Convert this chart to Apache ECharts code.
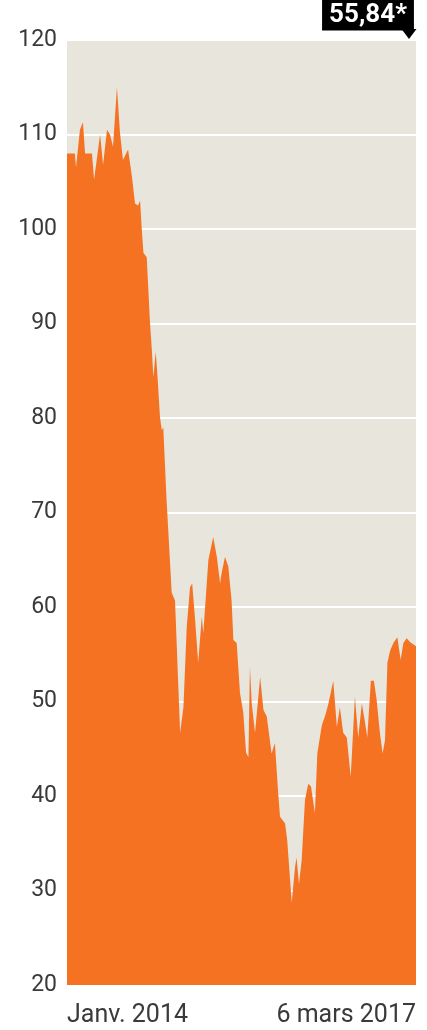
<!DOCTYPE html>
<html>
<head>
<meta charset="utf-8">
<script src="https://cdn.jsdelivr.net/npm/echarts@6/dist/echarts.min.js"></script>
<style>html,body{margin:0;padding:0;background:#fff;}#c{width:427px;height:1030px;}</style>
</head>
<body>
<div id="c"></div>
<script>
// Brent price, dollars per barrel
const dates = ['2014-01-01','2014-01-27','2014-01-31','2014-02-13','2014-02-23','2014-03-02','2014-03-25','2014-04-01','2014-04-21','2014-05-01','2014-05-14','2014-05-24','2014-06-03','2014-06-16','2014-06-26','2014-07-06','2014-07-23','2014-08-05','2014-08-15','2014-08-25','2014-09-01','2014-09-06','2014-09-12','2014-09-23','2014-10-04','2014-10-10','2014-10-15','2014-10-23','2014-10-29','2014-11-06','2014-11-12','2014-11-17','2014-11-28','2014-12-15','2014-12-26','2015-01-12','2015-01-23','2015-02-03','2015-02-14','2015-02-21','2015-03-02','2015-03-13','2015-03-25','2015-03-30','2015-04-16','2015-05-02','2015-05-14','2015-05-25','2015-05-30','2015-06-10','2015-06-21','2015-07-02','2015-07-08','2015-07-19','2015-07-30','2015-08-10','2015-08-19','2015-08-27','2015-09-01','2015-09-07','2015-09-18','2015-10-05','2015-10-16','2015-10-27','2015-11-12','2015-11-23','2015-12-04','2015-12-10','2015-12-27','2016-01-03','2016-01-18','2016-01-29','2016-02-03','2016-02-11','2016-02-20','2016-03-02','2016-03-13','2016-03-22','2016-04-04','2016-04-12','2016-04-27','2016-05-08','2016-05-19','2016-06-04','2016-06-16','2016-06-26','2016-07-07','2016-07-19','2016-08-01','2016-08-15','2016-08-26','2016-09-07','2016-09-18','2016-09-25','2016-10-07','2016-10-17','2016-10-26','2016-11-06','2016-11-15','2016-11-23','2016-12-01','2016-12-10','2016-12-21','2017-01-03','2017-01-14','2017-01-23','2017-02-03','2017-02-14','2017-03-06'];
const prices = [108,108,106.5,110.5,111.3,108,108,105.2,110,106.8,110.5,110,108.7,115,110.2,107.3,108.4,105.5,102.7,102.5,103,100.2,97.5,97,90,87.2,84.3,87,84.3,80.1,78.7,79,71.3,61.5,60.7,46.7,49.4,57.9,62.1,62.5,59,54.1,59,57.2,65,67.4,65.3,62.5,63.6,65.3,64.3,60.7,56.5,56.2,50.9,48.8,44.6,44.1,53.7,49.8,46.7,52.6,49.1,48.4,44.5,45.6,40.3,37.8,37.1,35.3,28.7,32.5,33.5,30.7,33.2,39.6,41.3,41,38.2,44.5,47.5,48.5,49.8,52.2,47.3,49.4,46.7,46.2,42,50.5,46.2,49.8,47.7,46.2,52.2,52.2,50.2,46.7,44.5,45.9,54.1,55.4,56.2,56.8,54.4,56.2,56.7,56.3,55.84];
const yTicks = [20,30,40,50,60,70,80,90,100,110,120];
const xLabelDates = ['2014-01-01','2017-03-06'];
const xLabelTexts = ['Janv. 2014','6 mars 2017'];
const lastLabel = '55,84*';

const DAY = 86400000;
const t0 = Date.UTC(2014, 0, 1);
const dayIndex = d => Math.round((new Date(d + 'T00:00:00Z').getTime() - t0) / DAY);
const seriesData = dates.map((d, i) => [dayIndex(d), prices[i]]);
const lastPoint = seriesData[seriesData.length - 1];
const xLabelDays = xLabelDates.map(dayIndex);

const chart = echarts.init(document.getElementById('c'));
chart.setOption({
  animation: false,
  grid: { left: 67, right: 11, top: 40, bottom: 45, show: true, backgroundColor: '#E7E5DC', borderWidth: 0 },
  xAxis: {
    type: 'value',
    min: xLabelDays[0], max: xLabelDays[1], interval: xLabelDays[1] - xLabelDays[0],
    axisLine: { show: false }, axisTick: { show: false }, splitLine: { show: false },
    axisLabel: {
      alignMinLabel: 'left', alignMaxLabel: 'right',
      showMinLabel: true, showMaxLabel: true,
      formatter: v => { const i = xLabelDays.indexOf(Math.round(v)); return i >= 0 ? xLabelTexts[i] : ''; },
      color: '#3a3a3a', fontFamily: 'Roboto', fontSize: 25, margin: 18
    }
  },
  yAxis: {
    type: 'value', min: yTicks[0], max: yTicks[yTicks.length - 1], interval: 10,
    axisLine: { show: false }, axisTick: { show: false },
    splitLine: { show: true, lineStyle: { color: '#ffffff', width: 2 } },
    axisLabel: { color: '#3a3a3a', fontFamily: 'Roboto', fontSize: 23, margin: 10 }
  },
  series: [{
    type: 'line',
    data: seriesData,
    symbol: 'none',
    lineStyle: { width: 0 },
    areaStyle: { color: '#F47221', opacity: 1, origin: 'start' },
    z: 1,
    markPoint: {
      silent: true,
      data: [
        { coord: [lastPoint[0], yTicks[yTicks.length - 1]], symbol: 'triangle', symbolRotate: 180, symbolSize: [15, 10], symbolOffset: [-7, -6], itemStyle: { color: '#000' }, label: { show: false } },
        { coord: [lastPoint[0], yTicks[yTicks.length - 1]], symbol: 'rect', symbolSize: 0,
          label: { show: true, formatter: lastLabel, position: 'inside', offset: [-48, -25],
            color: '#fff', fontFamily: 'Roboto', fontWeight: 'bold', fontSize: 26,
            backgroundColor: '#000', padding: [3, 7, 2, 7] } }
      ]
    }
  }]
});
</script>
</body>
</html>
